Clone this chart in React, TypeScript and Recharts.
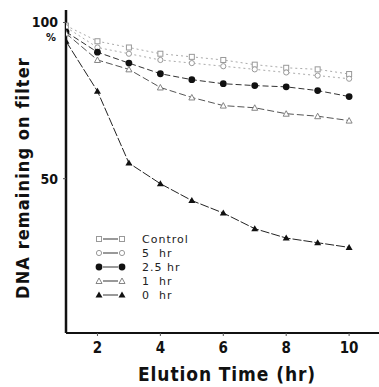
import React from 'react'
import { LineChart, Line, XAxis, YAxis, Label } from 'recharts'

const times = [1, 2, 3, 4, 5, 6, 7, 8, 9, 10]
const control = [99, 94, 92, 90, 89, 88, 86.5, 85.5, 85, 83.5]
const fiveHr = [98.5, 92, 90, 88, 87, 86, 85, 84, 83, 82]
const twoHalfHr = [97, 90.5, 87, 83.6, 81.7, 80.4, 79.8, 79.4, 78.2, 76.3]
const oneHr = [96.5, 88, 85, 79.2, 76, 73.4, 72.7, 70.8, 70, 68.6]
const zeroHr = [94, 78, 55, 48.4, 43, 39, 34, 31, 29.5, 28]

const xTicks = [2, 4, 6, 8, 10]
const yTicks = [50, 100]

const legendRows = [
  { label: 'Control', shape: 'square' },
  { label: '5  hr', shape: 'circle' },
  { label: '2.5 hr', shape: 'dot' },
  { label: '1  hr', shape: 'tri' },
  { label: '0  hr', shape: 'filledTri' },
]

const data = times.map((t, i) => ({
  t,
  control: control[i],
  fiveHr: fiveHr[i],
  twoHalfHr: twoHalfHr[i],
  oneHr: oneHr[i],
  zeroHr: zeroHr[i],
}))

const narrow = '"Liberation Sans Narrow", "DejaVu Sans Condensed", sans-serif'

function marker(shape: string, cx: number, cy: number, key?: string) {
  if (shape === 'square')
    return <rect key={key} x={cx - 2.5} y={cy - 2.5} width={5} height={5} fill="#fff" stroke="#999" strokeWidth={1} />
  if (shape === 'circle')
    return <circle key={key} cx={cx} cy={cy} r={2.6} fill="#fff" stroke="#999" strokeWidth={1} />
  if (shape === 'dot') return <circle key={key} cx={cx} cy={cy} r={3.4} fill="#111" />
  if (shape === 'tri')
    return (
      <path key={key} d={`M${cx},${cy - 3} L${cx + 3},${cy + 2.5} L${cx - 3},${cy + 2.5}Z`} fill="#fff" stroke="#777" strokeWidth={0.9} />
    )
  return <path key={key} d={`M${cx},${cy - 3.5} L${cx + 3.5},${cy + 2.5} L${cx - 3.5},${cy + 2.5}Z`} fill="#111" />
}

const dotFor = (shape: string) => (props: any) => marker(shape, props.cx, props.cy, `${shape}-${props.index}`)

const YTick = (props: any) => {
  const { x, y, payload } = props
  return (
    <g>
      <text x={x - 3} y={y + 5} textAnchor="end" fontFamily={narrow} fontWeight="bold" fontSize={14} fill="#111">
        {payload.value}
      </text>
      {payload.value === 100 && (
        <text x={x - 5} y={y + 19} textAnchor="end" fontFamily={narrow} fontWeight="bold" fontSize={11} fill="#111">
          %
        </text>
      )}
    </g>
  )
}

const XTick = (props: any) => {
  const { x, y, payload } = props
  return (
    <text x={x} y={y + 15} textAnchor="middle" fontFamily={narrow} fontWeight="bold" fontSize={15} fill="#111">
      {payload.value}
    </text>
  )
}

export default function App() {
  return (
    <div style={{ position: 'absolute', left: 0, top: 0, width: 379, height: 387, background: '#fff' }}>
      <LineChart width={379} height={387} data={data} margin={{ top: 10, right: 0, bottom: 53, left: 65 }}>
        <XAxis
          dataKey="t"
          type="number"
          domain={[1, 10.95]}
          ticks={xTicks}
          height={1}
          tick={<XTick />}
          tickSize={3}
          axisLine={{ stroke: '#111', strokeWidth: 2 }}
          tickLine={{ stroke: '#555' }}
          allowDataOverflow
        >
          <Label
            content={() => (
              <text x={227} y={381} textAnchor="middle" fontFamily={narrow} fontWeight="bold" fontSize={19} letterSpacing={0.9} fill="#111">
                Elution Time (hr)
              </text>
            )}
          />
        </XAxis>
        <YAxis
          type="number"
          domain={[0.6, 104]}
          ticks={yTicks}
          width={1}
          tick={<YTick />}
          tickSize={3}
          axisLine={{ stroke: '#111', strokeWidth: 2.5 }}
          tickLine={{ stroke: '#555' }}
          allowDataOverflow
        >
          <Label
            content={() => (
              <text
                x={22}
                y={178}
                transform="rotate(-90 22 178)"
                textAnchor="middle"
                dominantBaseline="central"
                fontFamily={narrow}
                fontWeight="bold"
                fontSize={18}
                letterSpacing={1.1}
                fill="#111"
              >
                DNA remaining on filter
              </text>
            )}
          />
        </YAxis>
        <Line dataKey="control" stroke="#aaa" strokeWidth={1} strokeDasharray="2 3" dot={dotFor('square')} isAnimationActive={false} />
        <Line dataKey="fiveHr" stroke="#aaa" strokeWidth={1} strokeDasharray="2 3" dot={dotFor('circle')} isAnimationActive={false} />
        <Line dataKey="twoHalfHr" stroke="#333" strokeWidth={1} strokeDasharray="6 3" dot={dotFor('dot')} isAnimationActive={false} />
        <Line dataKey="oneHr" stroke="#555" strokeWidth={1} strokeDasharray="7 3" dot={dotFor('tri')} isAnimationActive={false} />
        <Line dataKey="zeroHr" stroke="#222" strokeWidth={1} strokeDasharray="9 2" dot={dotFor('filledTri')} isAnimationActive={false} />
      </LineChart>
      <div style={{ position: 'absolute', left: 94, top: 232, fontFamily: '"DejaVu Sans", sans-serif', fontSize: 11, color: '#222' }}>
        {legendRows.map((r) => (
          <div key={r.label} style={{ display: 'flex', alignItems: 'center', height: 14 }}>
            <svg width={34} height={12}>
              {marker(r.shape, 5, 6)}
              <line x1={9} y1={6} x2={24} y2={6} stroke="#555" strokeWidth={1.2} />
              {marker(r.shape, 28, 6)}
            </svg>
            <span style={{ marginLeft: 14, whiteSpace: 'pre', letterSpacing: 1 }}>{r.label}</span>
          </div>
        ))}
      </div>
    </div>
  )
}
